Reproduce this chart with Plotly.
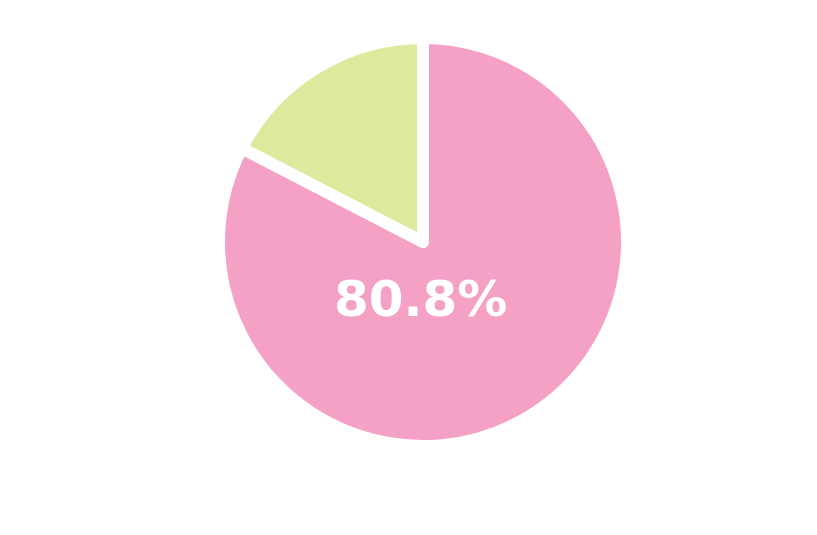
import plotly.graph_objects as go

labels = ['Pink', 'Green']
shares = [82.6, 17.4]
label_text = ['80.8%', '']
colors = ['#F5A0C5', '#DEE99E']

fig = go.Figure()
fig.add_trace(go.Pie(labels=labels, values=shares, sort=False, direction='clockwise', rotation=0,
                     marker=dict(colors=colors, line=dict(color='white', width=12)),
                     textinfo='none', hoverinfo='label+percent', showlegend=False))

# label sits below the pie centre, not on the slice bisector
fig.add_annotation(text=label_text[0], x=0.4975, y=0.361, xref='paper', yref='paper',
                   xanchor='center', yanchor='middle', showarrow=False,
                   font=dict(family='DejaVu Sans', size=50, color='white', weight='bold'))

fig.update_layout(width=817, height=535, margin=dict(l=13, r=0, t=30, b=97),
                  paper_bgcolor='white', plot_bgcolor='white')
fig.write_html('out.html')
